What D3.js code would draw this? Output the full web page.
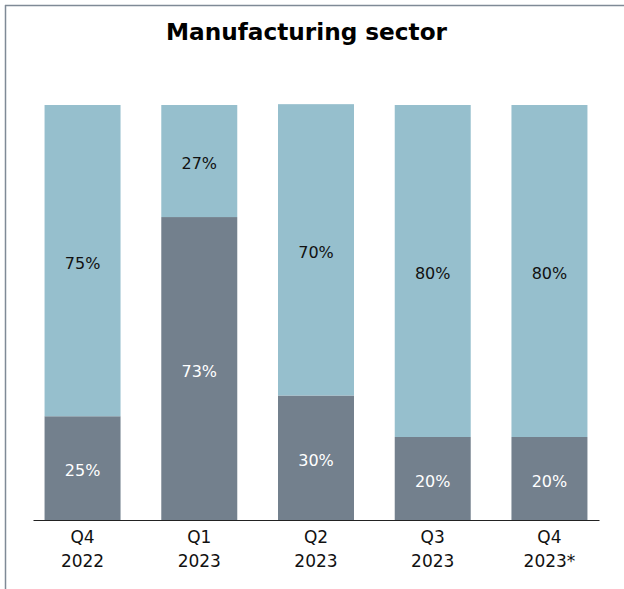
<!DOCTYPE html>
<html>
<head>
<meta charset="utf-8">
<script src="https://cdn.jsdelivr.net/npm/d3@7/dist/d3.min.js"></script>
<style>
  html, body { margin: 0; padding: 0; background: #fff; }
  svg { display: block; font-family: "DejaVu Sans", sans-serif; }
</style>
</head>
<body>
<svg id="chart" width="624" height="589"></svg>
<script>
const categories = ["Q4\n2022", "Q1\n2023", "Q2\n2023", "Q3\n2023", "Q4\n2023*"];
const lowerValues = [25, 73, 30, 20, 20];
const upperValues = [75, 27, 70.2, 80, 80];
const seriesColors = ["#73808d", "#96bfcd"];
const labelColors = ["#ffffff", "#111111"];

const svg = d3.select("#chart");
const W = 624, H = 589;

// frame lines (top and left)
svg.append("line").attr("x1", 5).attr("y1", 5.5).attr("x2", W).attr("y2", 5.5)
  .attr("stroke", "#7f8a96").attr("stroke-width", 1.5);
svg.append("line").attr("x1", 5.5).attr("y1", 5).attr("x2", 5.5).attr("y2", H)
  .attr("stroke", "#7f8a96").attr("stroke-width", 1.5);

svg.append("text").attr("x", 306.5).attr("y", 39.5).attr("text-anchor", "middle")
  .attr("font-size", 23.2).attr("font-weight", "bold").attr("fill", "#000")
  .text("Manufacturing sector");

const x = d3.scaleBand().domain(categories).range([33, 599])
  .paddingInner(0.349).paddingOuter(0.099);
const y = d3.scaleLinear().domain([0, 100]).range([520, 105]);

const data = categories.map((c, i) => ({ cat: c, lower: lowerValues[i], upper: upperValues[i] }));
const stack = d3.stack().keys(["lower", "upper"])(data);

stack.forEach((layer, li) => {
  const g = svg.append("g");
  g.selectAll("rect").data(layer).join("rect")
    .attr("x", d => x(d.data.cat))
    .attr("width", x.bandwidth())
    .attr("y", d => y(d[1]))
    .attr("height", d => y(d[0]) - y(d[1]))
    .attr("fill", seriesColors[li]);
  g.selectAll("text").data(layer).join("text")
    .attr("x", d => x(d.data.cat) + x.bandwidth() / 2)
    .attr("y", d => (y(d[0]) + y(d[1])) / 2 + 3.5)
    .attr("text-anchor", "middle").attr("dominant-baseline", "middle")
    .attr("font-size", 16).attr("fill", labelColors[li])
    .text(d => Math.round(d[1] - d[0]) + "%");
});

// axis
const axis = svg.append("g").attr("transform", "translate(0,520)")
  .call(d3.axisBottom(x).tickSize(0).tickFormat(""));
axis.select(".domain").attr("stroke", "#222").attr("stroke-width", 1.2);

const ticks = svg.append("g");
categories.forEach(c => {
  const t = ticks.append("text").attr("x", x(c) + x.bandwidth() / 2).attr("y", 543)
    .attr("text-anchor", "middle").attr("font-size", 17).attr("fill", "#111");
  c.split("\n").forEach((line, i) => {
    t.append("tspan").attr("x", x(c) + x.bandwidth() / 2).attr("dy", i === 0 ? 0 : 24).text(line);
  });
});
</script>
</body>
</html>
